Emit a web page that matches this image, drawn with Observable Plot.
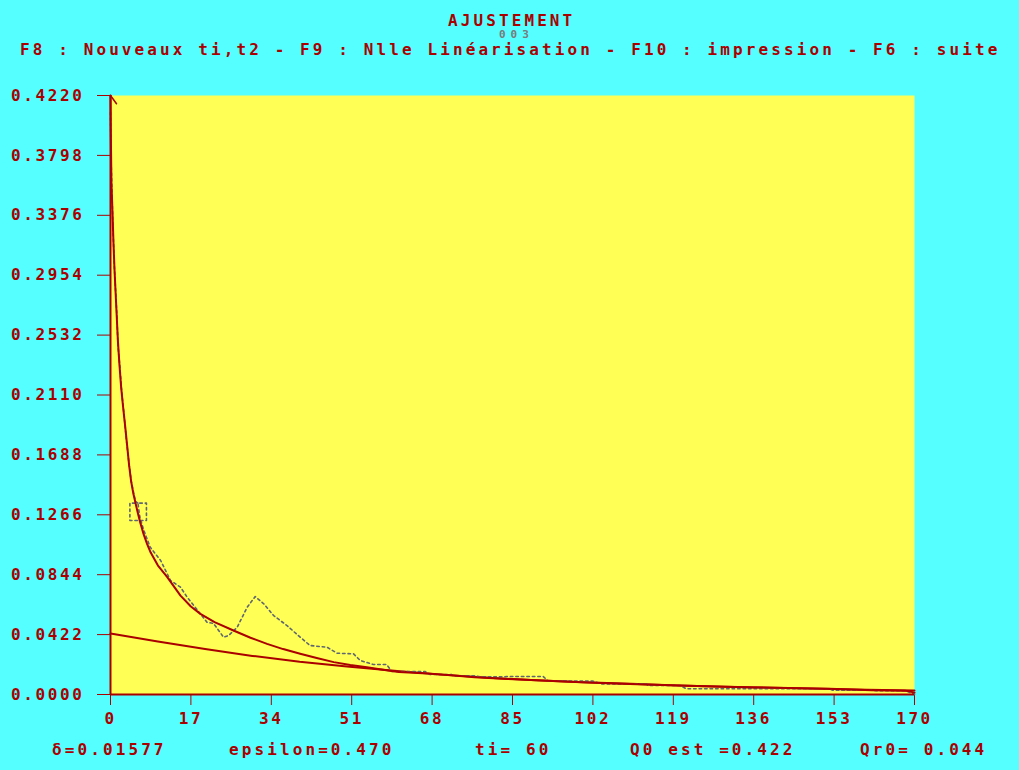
<!DOCTYPE html>
<html>
<head>
<meta charset="utf-8">
<script src="https://cdn.jsdelivr.net/npm/d3@7"></script>
<script src="https://cdn.jsdelivr.net/npm/@observablehq/plot@0.6"></script>
<style>
  html, body { margin: 0; padding: 0; background: #55FFFF; }
  #page { position: relative; width: 1019px; height: 770px; background: #55FFFF; overflow: hidden;
          font-family: "DejaVu Sans Mono", monospace; font-weight: bold; font-size: 16px; color: #AA0000; }
  .t { position: absolute; white-space: pre; letter-spacing: 3.1px; line-height: 16px; }
  #chart { position: absolute; left: 0; top: 80px; }
  #chart svg text { letter-spacing: 2.6px; }
</style>
</head>
<body>
<div id="page">
  <div class="t" style="left:448px; top:13px;">AJUSTEMENT</div>
  <div class="t" style="left:499px; top:30px; color:#7a7a7a; font-size:11px; line-height:10px; letter-spacing:5px;">003</div>
  <div class="t" style="left:20px; top:42px;">F8 : Nouveaux ti,t2 - F9 : Nlle Linéarisation - F10 : impression - F6 : suite</div>
  <div id="chart"></div>
  <div class="t" style="left:52px; top:742px;">δ=0.01577</div>
  <div class="t" style="left:229px; top:742px;">epsilon=0.470</div>
  <div class="t" style="left:475px; top:742px;">ti= 60</div>
  <div class="t" style="left:630px; top:742px;">Q0 est =0.422</div>
  <div class="t" style="left:860px; top:742px;">Qr0= 0.044</div>
</div>
<script>
// Tick values
const xTicks = [0, 17, 34, 51, 68, 85, 102, 119, 136, 153, 170];
const yTicks = [0, 0.0422, 0.0844, 0.1266, 0.1688, 0.2110, 0.2532, 0.2954, 0.3376, 0.3798, 0.4220];

// Fitted curve (red)
const fitT = [0, 0.05, 0.2, 0.42, 0.63, 0.84, 1.05, 1.27, 1.55, 1.9, 2.26, 2.68, 3.1, 3.53, 3.95, 4.37, 4.8, 5.28, 5.77, 6.3, 7, 7.75, 8.5, 10, 12, 14.8, 17, 19, 22, 26, 29.6, 33.1, 36.5, 40.1, 43.6, 47.2, 50.7, 54.2, 59, 61, 67, 72, 77, 84, 90, 97, 105, 113, 124, 136, 152, 161, 168, 169, 170];
const fitV = [0.4220, 0.4000, 0.3600, 0.3400, 0.3180, 0.3000, 0.2850, 0.2700, 0.2500, 0.2320, 0.2160, 0.2020, 0.1890, 0.1750, 0.1610, 0.1500, 0.1420, 0.1350, 0.1280, 0.1210, 0.1130, 0.1060, 0.1000, 0.0910, 0.0827, 0.0697, 0.0620, 0.0568, 0.0510, 0.0451, 0.0400, 0.0357, 0.0320, 0.0287, 0.0257, 0.0228, 0.0208, 0.0192, 0.0168, 0.0158, 0.0148, 0.0135, 0.0122, 0.0110, 0.0100, 0.0090, 0.0080, 0.0070, 0.0060, 0.0050, 0.0040, 0.0030, 0.0027, 0.0022, 0.0012];

// Slow component (red, Qr0 line)
const slowT = [0, 10, 20, 30, 40, 50, 60, 70, 80, 90, 100, 110, 120, 130, 140, 150, 160, 170];
const slowV = [0.0430, 0.0373, 0.0320, 0.0272, 0.0230, 0.0198, 0.0168, 0.0140, 0.0118, 0.0100, 0.0087, 0.0075, 0.0064, 0.0055, 0.0047, 0.0041, 0.0033, 0.0028];

// Observed data (grey dashed)
const obsT = [0, 0.1, 0.5, 0.84, 1.3, 1.6, 2, 2.4, 2.9, 3.4, 3.9, 4.4, 4.9, 5.3, 5.8, 4.1, 4.1, 7.6, 7.6, 5.8, 6.2, 7, 8.4, 10.6, 12.7, 14.8, 16.2, 19, 20.4, 21.8, 23.9, 25, 26.8, 28.9, 30.6, 32.4, 34.5, 37.3, 40.1, 42.2, 45.8, 47.9, 51.4, 52.8, 55.6, 58.4, 59.5, 66.5, 67.6, 72.1, 72.5, 77.1, 78.1, 83, 83.8, 91.5, 92.5, 96.5, 96.7, 102, 103.8, 113.3, 113.6, 120.4, 121.8, 152, 152.7, 161.2, 161.9, 168.2, 170];
const obsV = [0.4100, 0.3800, 0.3300, 0.3000, 0.2700, 0.2450, 0.2300, 0.2120, 0.1960, 0.1780, 0.1630, 0.1500, 0.1420, 0.1360, 0.1348, 0.1348, 0.1226, 0.1226, 0.1348, 0.1348, 0.1250, 0.1160, 0.1038, 0.0944, 0.0803, 0.0756, 0.0686, 0.0568, 0.0509, 0.0500, 0.0404, 0.0416, 0.0474, 0.0615, 0.0690, 0.0639, 0.0556, 0.0486, 0.0404, 0.0345, 0.0333, 0.0291, 0.0286, 0.0240, 0.0211, 0.0211, 0.0162, 0.0162, 0.0141, 0.0141, 0.0131, 0.0131, 0.0124, 0.0124, 0.0127, 0.0127, 0.0096, 0.0096, 0.0094, 0.0094, 0.0075, 0.0075, 0.0063, 0.0063, 0.0040, 0.0040, 0.0030, 0.0030, 0.0026, 0.0026, 0.0000];

// Small start marker
const hookT = [0, 1.27];
const hookV = [0.4220, 0.4162];

const RED = "#AA0000";
const fit = fitT.map((t, i) => ({t, v: fitV[i]}));
const slow = slowT.map((t, i) => ({t, v: slowV[i]}));
const obs = obsT.map((t, i) => ({t, v: obsV[i]}));
const hook = hookT.map((t, i) => ({t, v: hookV[i]}));

const chart = Plot.plot({
  width: 1019,
  height: 660,
  marginLeft: 110,
  marginRight: 105,
  marginTop: 15,
  marginBottom: 46,
  style: {background: "transparent", color: RED, fontFamily: "DejaVu Sans Mono", fontWeight: "bold", fontSize: "16px"},
  x: {domain: [0, 170], ticks: xTicks, tickSize: 11, tickPadding: 7, tickFormat: d => String(d), label: null},
  y: {domain: [0, 0.422], ticks: yTicks, tickSize: 13, tickPadding: 13, tickFormat: d => d.toFixed(4), label: null},
  marks: [
    Plot.frame({fill: "#FFFF55", stroke: null}),
    Plot.line(slow, {x: "t", y: "v", stroke: RED, strokeWidth: 2}),
    Plot.line(obs, {x: "t", y: "v", stroke: "#5f6670", strokeWidth: 1.6, strokeDasharray: "2.5,3"}),
    Plot.line(fit, {x: "t", y: "v", stroke: RED, strokeWidth: 2}),
    Plot.line(hook, {x: "t", y: "v", stroke: RED, strokeWidth: 1.5}),
    Plot.ruleX([0], {stroke: RED, strokeWidth: 2}),
    Plot.ruleY([0], {stroke: RED, strokeWidth: 2})
  ]
});
document.getElementById("chart").appendChild(chart);
</script>
</body>
</html>
